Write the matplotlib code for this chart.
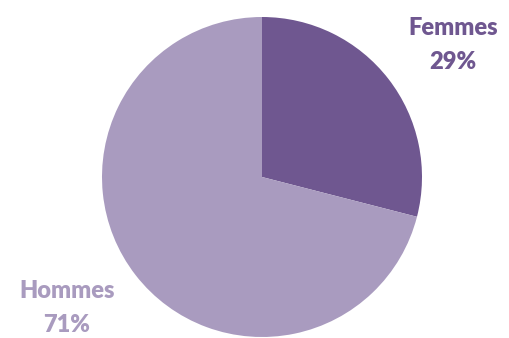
import matplotlib
matplotlib.use("Agg")
import matplotlib.pyplot as plt

labels = ["Femmes", "Hommes"]
shares = [29, 71]
colors = ["#6F5790", "#A99BBF"]

fig = plt.figure(figsize=(5.09, 3.38), dpi=100)
ax = fig.add_axes([0, 0, 1, 1])

ax.pie(shares, colors=colors, startangle=90, counterclock=False,
       center=(262, 161), radius=160, frame=True,
       wedgeprops=dict(linewidth=0))
ax.set_xlim(0, 509)
ax.set_ylim(0, 338)
ax.set_aspect("equal")
ax.axis("off")

label_pos = [(453, 293), (67, 30)]
for name, pct, col, (x, y) in zip(labels, shares, colors, label_pos):
    ax.text(x, y, f"{name}\n{pct}%", ha="center", va="center", color=col,
            fontsize=17, fontweight="heavy", family="Lato", linespacing=1.65)

fig.savefig("out.png", dpi=100)
